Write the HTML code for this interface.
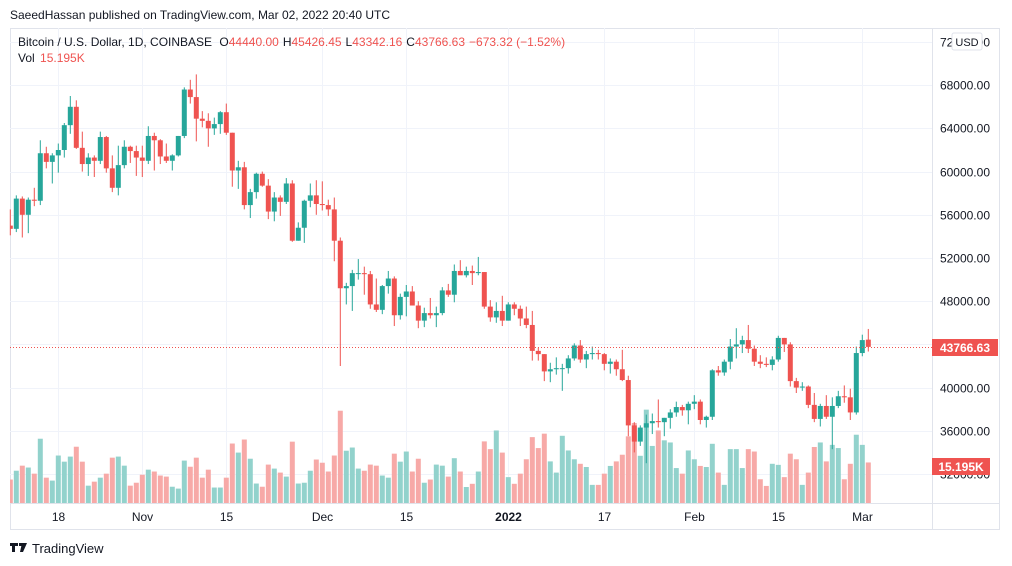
<!DOCTYPE html>
<html><head><meta charset="utf-8"><style>
body{margin:0;background:#fff;width:1012px;height:566px;overflow:hidden;font-family:"Liberation Sans",sans-serif;}
svg{position:absolute;left:0;top:0}
</style></head><body>
<svg id="c" width="1012" height="566" xmlns="http://www.w3.org/2000/svg">
<text x="10" y="19" font-size="12" fill="#131722" font-family="Liberation Sans, sans-serif">SaeedHassan published on TradingView.com, Mar 02, 2022 20:40 UTC</text>
<rect x="10.5" y="28.5" width="989" height="501" fill="none" stroke="#e0e3eb"/>
<g id="grid"></g>
<g id="vol"></g>
<g id="cand"></g>
<line x1="10" y1="347.5" x2="932" y2="347.5" stroke="#ef5350" stroke-dasharray="1,2"/>
<line x1="932.5" y1="28" x2="932.5" y2="530" stroke="#e0e3eb"/>
<line x1="10" y1="503.5" x2="1000" y2="503.5" stroke="#e0e3eb"/>
<g id="yax"></g>
<g id="xax"></g>
<rect x="952" y="33" width="30" height="17" rx="2" fill="#fff" stroke="#e0e3eb"/>
<text x="967" y="46" font-size="11" text-anchor="middle" fill="#131722">USD</text>
<rect x="932" y="339" width="66" height="17" fill="#ef5350"/>
<text x="965" y="352" font-size="12" font-weight="bold" text-anchor="middle" fill="#fff">43766.63</text>
<rect x="932" y="458" width="58" height="17" fill="#ef5350"/>
<text x="961" y="471" font-size="12" font-weight="bold" text-anchor="middle" fill="#fff">15.195K</text>
<text x="18" y="46" font-size="12" fill="#131722">Bitcoin / U.S. Dollar, 1D, COINBASE <tspan dx="4">O</tspan><tspan fill="#ef5350">44440.00</tspan><tspan dx="4">H</tspan><tspan fill="#ef5350">45426.45</tspan><tspan dx="4">L</tspan><tspan fill="#ef5350">43342.16</tspan><tspan dx="4">C</tspan><tspan fill="#ef5350">43766.63</tspan><tspan dx="4" fill="#ef5350">−673.32 (−1.52%)</tspan></text>
<text x="18" y="62" font-size="12" fill="#131722">Vol <tspan dx="2" fill="#ef5350">15.195K</tspan></text>
<g>
<path d="M10 543h8v3h-3v6h-3v-6h-2z M19 543h3v3h-3z M22 543h5l-4 9h-3z" fill="#131722"/>
<text x="32" y="553" font-size="13" fill="#131722">TradingView</text>
</g>
</svg>
<script>
const opens=[55.0,54.7,57.5,56.0,57.4,57.3,61.7,60.9,61.5,62.0,64.3,66.0,62.2,60.7,61.3,61.0,63.2,60.3,58.5,60.6,62.3,61.9,61.3,61.0,63.3,62.9,61.4,61.0,61.5,63.3,67.6,66.9,64.9,64.7,64.0,64.4,65.5,63.6,60.1,60.4,56.9,58.1,59.8,58.7,56.3,57.6,57.2,58.9,53.6,54.8,57.3,57.8,57.0,56.9,56.5,53.6,49.2,49.4,50.6,50.6,50.5,47.7,47.2,49.4,50.1,46.7,48.4,48.9,47.6,46.2,46.9,46.7,46.9,49.0,48.6,50.8,50.4,50.8,50.6,50.7,47.5,46.5,47.1,46.2,47.7,47.3,46.4,45.8,43.4,43.1,41.5,41.7,41.8,41.8,42.7,43.9,42.6,43.1,43.2,43.1,42.2,42.4,41.7,40.7,36.5,35.0,36.3,36.7,36.9,36.8,37.2,37.7,38.2,37.9,38.5,38.7,37.0,37.3,41.6,41.4,42.4,43.8,44.0,44.4,43.6,42.4,42.2,42.1,42.6,44.6,44.0,40.6,40.0,40.1,38.4,37.1,38.3,37.3,38.3,39.2,39.1,37.7,43.2,44.44];
const highs=[56.5,57.8,57.7,57.6,58.5,62.9,62.3,61.7,62.6,64.5,67.0,66.6,63.7,61.7,61.5,63.7,63.3,61.5,62.4,62.9,62.4,62.4,62.4,64.2,63.6,63.0,62.6,61.6,63.3,67.8,68.5,69.0,65.6,65.4,65.0,65.6,66.3,63.6,61.0,60.9,58.4,59.9,60.0,59.3,58.1,57.8,59.4,59.2,55.3,57.4,58.9,59.2,59.1,57.4,57.6,53.9,49.7,50.9,51.9,51.2,50.8,50.1,49.5,50.8,50.3,48.7,49.5,49.4,48.0,47.4,48.3,47.5,49.3,49.6,51.4,51.8,51.2,51.3,52.1,50.7,48.1,47.9,48.5,47.9,47.9,47.6,47.5,47.1,43.7,43.1,42.3,42.8,42.2,43.0,44.1,44.4,43.4,43.8,43.5,43.2,42.7,42.6,43.5,41.1,36.8,36.5,37.5,37.6,38.9,37.2,38.0,38.7,38.4,38.7,39.3,38.9,37.4,41.7,42.0,42.6,44.5,45.5,44.8,45.8,43.9,43.0,42.8,42.9,44.8,44.6,44.2,40.9,40.5,40.2,39.5,38.5,39.3,39.1,39.7,40.2,39.9,43.8,44.9,45.43];
const lows=[54.1,54.4,53.9,54.3,56.8,56.9,60.3,58.9,59.9,61.3,63.5,62.1,60.0,59.6,59.5,60.7,59.9,58.1,57.8,60.3,60.8,59.6,59.5,60.7,60.1,60.7,60.8,60.1,61.4,63.1,66.3,62.8,64.1,62.3,63.4,63.5,63.4,58.6,58.4,56.5,55.7,57.5,58.6,55.6,55.4,55.9,57.0,53.5,53.6,53.4,56.7,56.0,56.4,55.9,51.7,42.0,47.7,47.1,50.0,48.6,47.3,47.0,46.8,48.7,45.7,46.3,46.6,47.6,45.5,45.6,46.4,45.6,46.7,48.4,47.9,50.5,50.2,49.5,50.4,47.3,46.1,46.0,45.7,46.2,46.7,45.7,45.5,42.5,42.5,40.6,40.5,41.2,39.7,41.3,42.5,42.3,41.8,42.6,42.6,41.6,41.3,41.1,40.6,35.5,34.0,34.6,33.0,35.7,36.3,35.5,36.2,37.3,37.4,36.6,38.0,36.6,36.3,37.0,41.1,41.1,41.7,42.7,43.2,43.2,42.0,41.8,41.9,41.6,42.4,43.3,40.1,39.5,39.7,38.1,36.8,36.4,37.1,34.3,38.1,38.6,37.0,37.5,42.9,43.34];
const closes=[54.7,57.5,56.0,57.4,57.3,61.7,60.9,61.5,62.0,64.3,66.0,62.2,60.7,61.3,61.0,63.2,60.3,58.5,60.6,62.3,61.9,61.3,61.0,63.3,62.9,61.4,61.0,61.5,63.3,67.6,66.9,64.9,64.7,64.0,64.4,65.5,63.6,60.1,60.4,56.9,58.1,59.8,58.7,56.3,57.6,57.2,58.9,53.6,54.8,57.3,57.8,57.0,56.9,56.5,53.6,49.2,49.4,50.6,50.6,50.5,47.7,47.2,49.4,50.1,46.7,48.4,48.9,47.6,46.2,46.9,46.7,46.9,49.0,48.6,50.8,50.4,50.8,50.6,50.7,47.5,46.5,47.1,46.2,47.7,47.3,46.4,45.8,43.4,43.1,41.5,41.7,41.8,41.8,42.7,43.9,42.6,43.1,43.2,43.1,42.2,42.4,41.7,40.7,36.5,35.0,36.3,36.7,36.9,36.8,37.2,37.7,38.2,37.9,38.5,38.7,37.0,37.3,41.6,41.4,42.4,43.8,44.0,44.4,43.6,42.4,42.2,42.1,42.6,44.6,44.0,40.6,40.0,40.1,38.4,37.1,38.3,37.3,38.3,39.2,39.1,37.7,43.2,44.4,43.77];
const volumes=[8.8,12.1,14.0,13.3,11.0,24.1,9.5,8.4,17.8,15.5,17.4,21.1,15.5,6.5,8.0,9.5,11.0,17.0,17.4,14.0,6.5,7.6,10.6,12.5,11.8,10.3,9.9,6.1,5.4,15.9,13.6,17.0,9.5,12.5,5.8,5.8,9.5,22.3,18.9,23.8,16.6,7.3,6.1,14.4,12.9,11.4,9.9,23.0,7.3,7.6,12.1,16.3,15.1,11.8,17.8,34.6,19.6,20.8,12.9,12.1,14.4,14.0,10.3,9.5,18.5,15.5,19.3,11.8,16.6,7.6,8.8,14.4,14.0,9.9,16.8,11.8,6.0,7.2,11.8,23.1,20.2,27.2,18.9,9.7,7.2,11.0,16.4,24.7,20.6,26.0,15.6,11.4,25.2,19.7,16.4,14.7,13.5,6.8,6.8,11.0,13.9,15.6,18.1,25.0,30.0,17.7,35.0,21.4,27.2,23.5,22.7,13.1,11.0,19.7,16.4,13.9,13.5,22.2,11.4,6.8,20.2,20.2,13.1,20.2,19.3,8.9,6.4,14.7,14.3,9.7,18.5,16.4,6.8,11.4,21.0,22.7,15.6,21.8,20.6,8.9,14.7,25.6,21.8,15.2];
const priceTicks=[72000,68000,64000,60000,56000,52000,48000,44000,40000,36000,32000];
const timeTicks=["18","Nov","15","Dec","15","2022","17","Feb","15","Mar"];
const timeTickIdx=[8,22,36,52,66,83,99,114,128,142];

const NS="http://www.w3.org/2000/svg";
const py=p=>42+(72000-p)/4000*43.2;
const px=i=>10.3+6*i;
const vy=v=>503-v*2.667;
function mk(tag,attrs,parent){const e=document.createElementNS(NS,tag);for(const k in attrs)e.setAttribute(k,attrs[k]);parent.appendChild(e);return e;}
const grid=document.getElementById('grid'),cand=document.getElementById('cand'),vol=document.getElementById('vol'),yax=document.getElementById('yax'),xax=document.getElementById('xax');
priceTicks.forEach(p=>{
  const y=Math.round(py(p))+0.5;
  const l=mk('line',{x1:10,x2:932,y1:y,y2:y,stroke:'#f0f3fa'},grid);
  
  
  const t=mk('text',{x:990,y:y+4,'font-size':12,'text-anchor':'end',fill:'#131722'},yax);
  t.textContent=p.toFixed(2);
  
  
});
timeTicks.forEach((lab,k)=>{
  const x=Math.round(px(timeTickIdx[k]))+0.5;
  const l=mk('line',{x1:x,x2:x,y1:28,y2:503,stroke:'#f0f3fa'},grid);
  
  
  const t=mk('text',{x:x,y:521,'font-size':12,'text-anchor':'middle',fill:'#131722','font-weight':lab==='2022'?'bold':'normal'},xax);
  t.textContent=lab;
  
  
});
for(let i=0;i<closes.length;i++){
  const up=closes[i]>=opens[i];
  const cx=px(i);
  const x0=Math.max(10,cx-2.5), w=cx+2.5-x0;
  const vb=mk('rect',{x:x0,y:vy(volumes[i]),width:w,height:503-vy(volumes[i]),fill:up?'#92d2cc':'#f7a9a7'},vol);
  
  
  const col=up?'#26a69a':'#ef5350';
  const g=mk('g',{},cand);
  
  
  if(cx>=10) mk('line',{x1:cx,x2:cx,y1:py(highs[i]*1000),y2:py(lows[i]*1000),stroke:col,'stroke-width':1},g);
  const top=py(Math.max(opens[i],closes[i])*1000),bot=py(Math.min(opens[i],closes[i])*1000);
  mk('rect',{x:x0,y:top,width:w,height:Math.max(1,bot-top),fill:col},g);
}
</script>
</body></html>
